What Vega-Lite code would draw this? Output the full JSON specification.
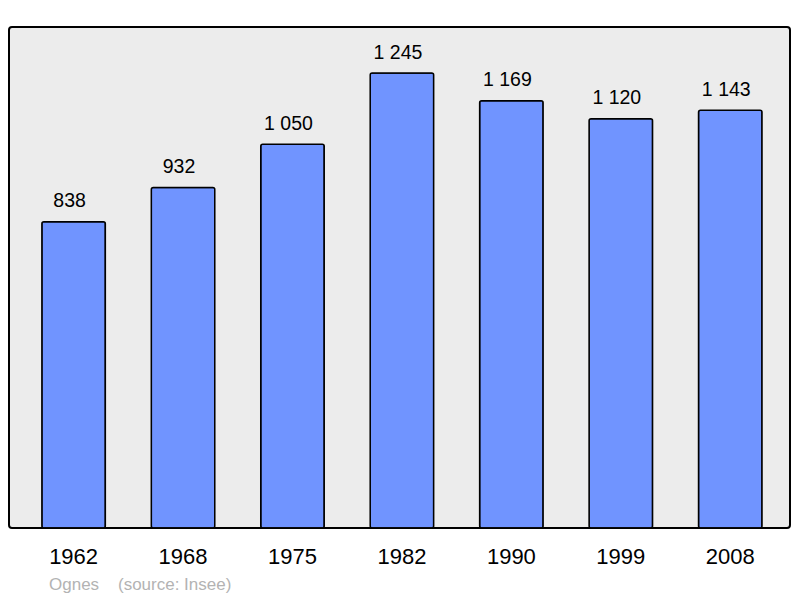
{
  "$schema": "https://vega.github.io/schema/vega-lite/v6.json",
  "width": 781,
  "height": 501,
  "autosize": "none",
  "padding": {"left": 9, "top": 27, "right": 10, "bottom": 70},
  "background": "white",
  "config": {
    "font": "Liberation Sans",
    "locale": {
      "number": {"decimal": ",", "thousands": " ", "grouping": [3], "currency": ["", " €"]}
    },
    "view": {"fill": "#ececec", "stroke": "#000000", "strokeWidth": 2, "cornerRadius": 3}
  },
  "title": {
    "text": "Ognes\u00a0\u00a0\u00a0\u00a0(source: Insee)",
    "orient": "bottom",
    "anchor": "start",
    "dx": 40,
    "offset": 10,
    "fontSize": 17,
    "fontWeight": "normal",
    "color": "#b3b3b3",
    "font": "Liberation Sans"
  },
  "data": {
    "values": [
      {"year": "1962", "population": 838},
      {"year": "1968", "population": 932},
      {"year": "1975", "population": 1050},
      {"year": "1982", "population": 1245},
      {"year": "1990", "population": 1169},
      {"year": "1999", "population": 1120},
      {"year": "2008", "population": 1143}
    ]
  },
  "encoding": {
    "x": {
      "field": "year",
      "type": "nominal",
      "sort": null,
      "scale": {"paddingInner": 0.42, "paddingOuter": 0.278, "align": 0.54},
      "axis": {
        "title": null,
        "labelAngle": 0,
        "labelFontSize": 22,
        "labelColor": "#000000",
        "labelPadding": 18,
        "ticks": false,
        "domain": false,
        "grid": false
      }
    },
    "y": {
      "field": "population",
      "type": "quantitative",
      "scale": {"domain": [0, 1371], "nice": false},
      "axis": null
    }
  },
  "layer": [
    {
      "mark": {"type": "bar", "fill": "#7094ff", "stroke": "#000000", "strokeWidth": 1.5, "cornerRadius": 2}
    },
    {
      "mark": {"type": "text", "baseline": "alphabetic", "dy": -14.5, "dx": -4, "fontSize": 19.5, "color": "#000000"},
      "encoding": {"text": {"field": "population", "type": "quantitative", "format": ",d"}}
    }
  ]
}
